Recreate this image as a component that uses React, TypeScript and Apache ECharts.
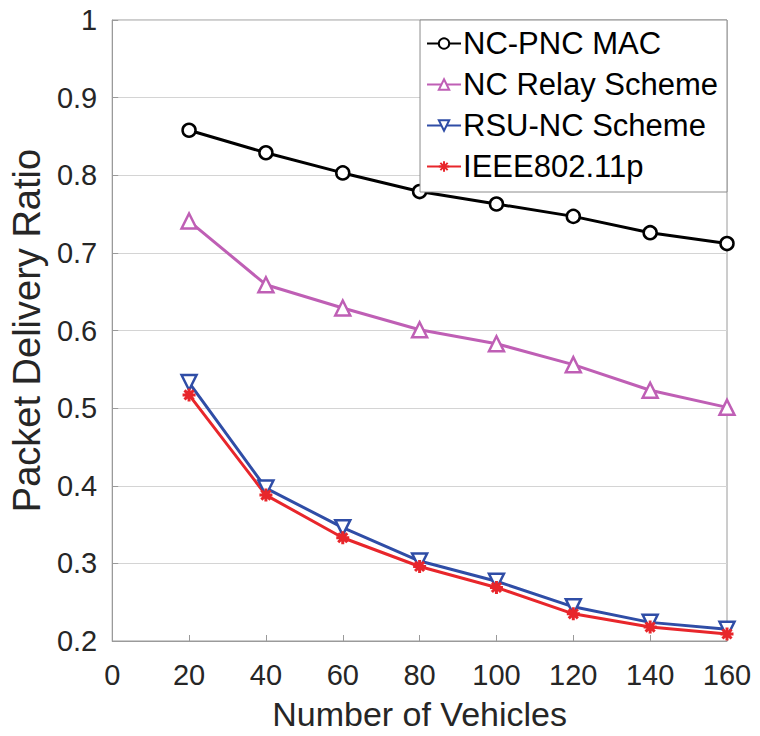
import React, { useEffect, useRef } from "react";
import * as echarts from "echarts";

const vehicles = [20, 40, 60, 80, 100, 120, 140, 160];
const ncPncMac = [0.858, 0.829, 0.803, 0.779, 0.763, 0.747, 0.726, 0.712];
const ncRelay = [0.741, 0.659, 0.629, 0.601, 0.583, 0.556, 0.523, 0.501];
const rsuNc = [0.533, 0.397, 0.346, 0.303, 0.277, 0.244, 0.224, 0.215];
const ieee = [0.517, 0.388, 0.333, 0.296, 0.269, 0.235, 0.218, 0.209];
const seriesNames = ["NC-PNC MAC", "NC Relay Scheme", "RSU-NC Scheme", "IEEE802.11p"];

const pair = (ys: number[]) => vehicles.map((x, i) => [x, ys[i]]);

const FONT = "Liberation Sans, Arial, sans-serif";
const ASTERISK = "path://M0,5L10,5M5,0L5,10M1.5,1.5L8.5,8.5M8.5,1.5L1.5,8.5";

export default function App() {
  const ref = useRef<HTMLDivElement>(null);
  useEffect(() => {
    document.body.style.margin = "0";
    if (!ref.current) return;
    const chart = echarts.init(ref.current, undefined, { renderer: "svg" });
    const mk = (
      name: string,
      ys: number[],
      color: string,
      symbol: string,
      size: number
    ) => ({
      name,
      type: "line",
      data: pair(ys),
      symbol,
      symbolSize: size,
      showAllSymbol: true,
      lineStyle: { color, width: 3 },
      itemStyle: { color: "#ffffff", borderColor: color, borderWidth: 2.5 },
      z: 3,
    });
    chart.setOption({
      animation: false,
      backgroundColor: "#ffffff",
      textStyle: { fontFamily: FONT },
      grid: {
        left: 103,
        right: 33,
        top: 20,
        bottom: 92,
        show: true,
        borderColor: "#9a9a9a",
        borderWidth: 1,
        backgroundColor: "transparent",
      },
      legend: {
        data: seriesNames,
        orient: "vertical",
        right: 33,
        top: 20,
        backgroundColor: "#ffffff",
        borderColor: "#8c8c8c",
        borderWidth: 1,
        borderRadius: 0,
        padding: [8, 9, 10, 6],
        itemGap: 10,
        itemWidth: 34,
        itemHeight: 13,
        align: "left",
        textStyle: { fontFamily: FONT, fontSize: 31, color: "#000000", padding: [0, 0, 0, -3] },
        z: 10,
      },
      xAxis: {
        type: "value",
        min: 0,
        max: 160,
        interval: 20,
        name: "Number of Vehicles",
        nameLocation: "middle",
        nameGap: 56,
        nameTextStyle: { fontFamily: FONT, fontSize: 34, color: "#262626" },
        axisLine: { show: true, lineStyle: { color: "#9a9a9a", width: 1 } },
        axisTick: { show: true, inside: true, length: 6, lineStyle: { color: "#9a9a9a" } },
        axisLabel: { fontFamily: FONT, fontSize: 29, color: "#262626", margin: 19 },
        splitLine: { show: false },
      },
      yAxis: {
        type: "value",
        min: 0.2,
        max: 1,
        interval: 0.1,
        name: "Packet Delivery Ratio",
        nameLocation: "middle",
        nameGap: 58,
        nameTextStyle: { fontFamily: FONT, fontSize: 38, color: "#262626" },
        axisLine: { show: true, lineStyle: { color: "#9a9a9a", width: 1 } },
        axisTick: { show: true, inside: true, length: 6, lineStyle: { color: "#9a9a9a" } },
        axisLabel: { fontFamily: FONT, fontSize: 29, color: "#262626", margin: 15 },
        splitLine: { show: true, lineStyle: { color: "#d4d4d4", width: 1 } },
      },
      series: [
        mk(seriesNames[0], ncPncMac, "#000000", "circle", 13),
        mk(seriesNames[1], ncRelay, "#BF5FB5", "triangle", 15),
        mk(seriesNames[2], rsuNc, "#2F4DA6", "path://M0,0L10,0L5,9Z", 15),
        {
          ...mk(seriesNames[3], ieee, "#E8262B", ASTERISK, 13),
          itemStyle: { color: "#E8262B", borderColor: "#E8262B", borderWidth: 3 },
        },
      ],
    });
    return () => chart.dispose();
  }, []);
  return <div ref={ref} style={{ width: 760, height: 736 }} />;
}
